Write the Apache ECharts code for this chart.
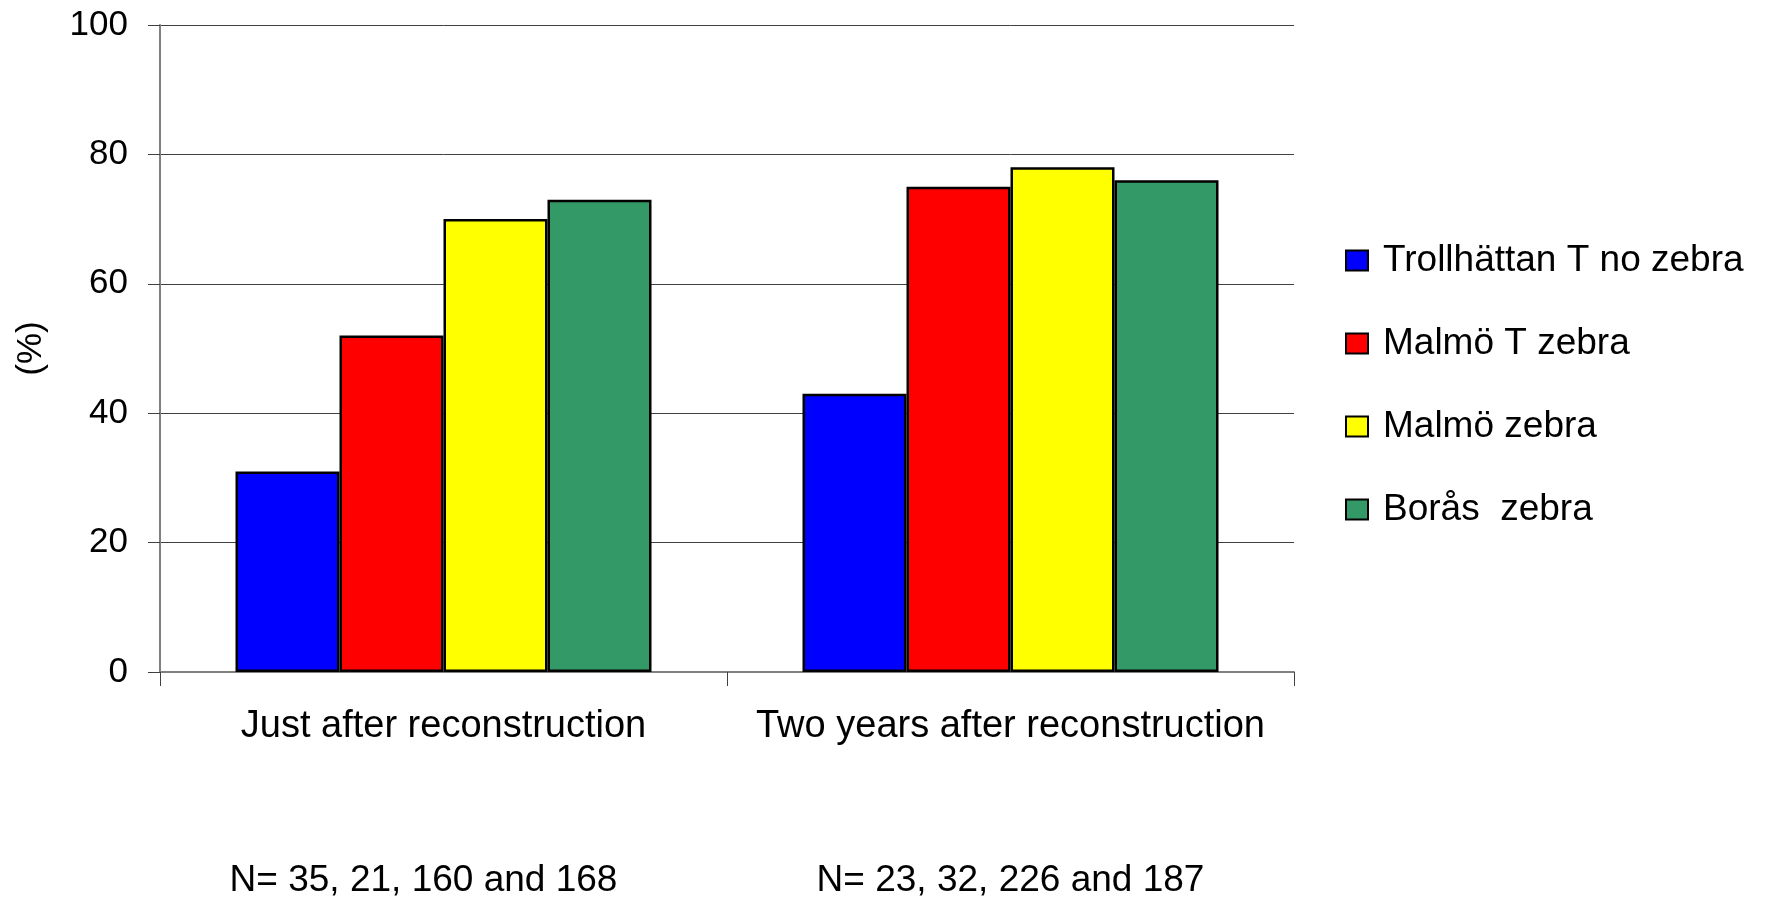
<!DOCTYPE html>
<html>
<head>
<meta charset="utf-8">
<script src="https://cdn.jsdelivr.net/npm/echarts@6/dist/echarts.min.js"></script>
<style>
html,body{margin:0;padding:0;background:#fff;}
#chart{width:1767px;height:899px;}
</style>
</head>
<body>
<div id="chart"></div>
<script>
const categories = ['Just after reconstruction', 'Two years after reconstruction'];
const sampleLabels = ['N= 35, 21, 160 and 168', 'N= 23, 32, 226 and 187'];
const seriesNames = ['Trollhättan T no zebra', 'Malmö T zebra', 'Malmö zebra', 'Borås  zebra'];
const trollhattan = [31, 43];
const malmoT = [52, 75];
const malmoZebra = [70, 78];
const boras = [73, 76];
const seriesColors = ['#0000FF', '#FF0000', '#FFFF00', '#339966'];
const yTicks = [0, 20, 40, 60, 80, 100];

const values = [trollhattan, malmoT, malmoZebra, boras];
const font = 'Liberation Sans, Arial, sans-serif';

const chart = echarts.init(document.getElementById('chart'), null, {renderer: 'canvas'});
chart.setOption({
  backgroundColor: '#ffffff',
  animation: false,
  textStyle: {fontFamily: font, color: '#000'},
  grid: {left: 160, right: 473, top: 25, bottom: 226, containLabel: false},
  legend: {
    orient: 'vertical',
    left: 1340,
    top: 237,
    icon: 'rect',
    itemWidth: 22,
    itemHeight: 20,
    itemGap: 46,
    itemStyle: {borderColor: '#000', borderWidth: 2},
    textStyle: {fontSize: 37, fontFamily: font, color: '#000', padding: [0, 0, 0, 10]},
    data: seriesNames
  },
  xAxis: [{
    type: 'category',
    data: categories,
    boundaryGap: true,
    axisLine: {show: true, lineStyle: {color: '#808080', width: 2}},
    axisTick: {show: true, interval: 0, length: 14, lineStyle: {color: '#404040', width: 1}},
    axisLabel: {interval: 0, fontSize: 38, fontFamily: font, color: '#000', margin: 36},
    splitLine: {show: false}
  }, {
    type: 'category',
    data: sampleLabels.map((s, i) => i === 0 ? {value: s, textStyle: {padding: [0, 40, 0, 0]}} : s),
    position: 'bottom',
    boundaryGap: true,
    axisLine: {show: false},
    axisTick: {show: false},
    axisLabel: {interval: 0, fontSize: 37, fontFamily: font, color: '#000', margin: 190},
    splitLine: {show: false}
  }],
  yAxis: {
    type: 'value',
    min: yTicks[0],
    max: yTicks[yTicks.length - 1],
    interval: 20,
    name: '(%)',
    nameLocation: 'middle',
    nameRotate: 90,
    nameGap: 111,
    nameTextStyle: {fontSize: 35, fontFamily: font, color: '#000'},
    axisLine: {show: true, lineStyle: {color: '#808080', width: 2}},
    axisTick: {show: true, length: 12, inside: false, lineStyle: {color: '#404040'}},
    axisLabel: {fontSize: 35, fontFamily: font, color: '#000', margin: 32},
    splitLine: {show: true, lineStyle: {color: '#404040', width: 1}}
  },
  series: seriesNames.map((name, i) => ({
    name: name,
    type: 'bar',
    xAxisIndex: 0,
    data: values[i],
    barWidth: 104,
    barGap: '0%',
    itemStyle: {color: seriesColors[i], borderColor: '#000', borderWidth: 2.5}
  }))
});
</script>
</body>
</html>
